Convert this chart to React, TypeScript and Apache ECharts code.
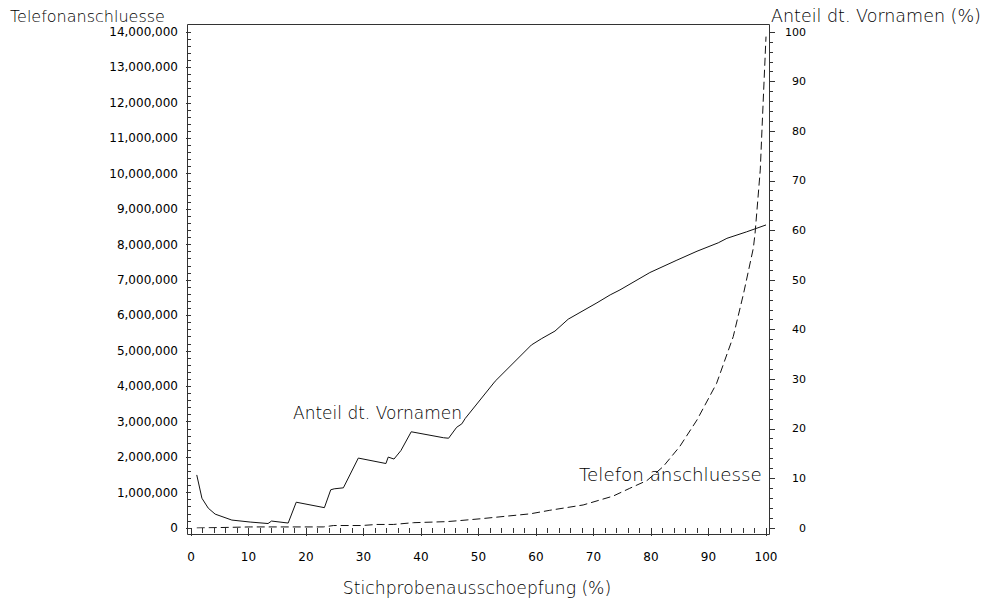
import React, { useEffect, useRef } from "react";
import * as echarts from "echarts";

// Stichprobenausschoepfung (%) vs. Anteil dt. Vornamen (%) — solid line, right axis
const anteilX = [1.0, 1.9, 3.0, 4.2, 7.1, 10.3, 13.4, 14.0, 16.9, 18.3, 23.2, 24.3, 24.9, 26.5, 29.1, 33.9, 34.3, 35.3, 36.5, 38.3, 43.9, 44.8, 46.2, 47.1, 47.7, 52.9, 59.2, 61.0, 63.3, 65.6, 70.6, 72.9, 74.6, 79.8, 84.5, 88.0, 91.7, 93.2, 96.6, 100];
const anteilY = [10.7, 6.0, 4.0, 2.8, 1.6, 1.2, 0.9, 1.4, 1.0, 5.2, 4.1, 7.7, 7.9, 8.1, 14.1, 13.0, 14.3, 13.9, 15.6, 19.4, 18.2, 18.1, 20.3, 21.0, 22.1, 29.6, 36.9, 38.2, 39.7, 42.1, 45.4, 47.0, 48.0, 51.5, 54.0, 55.8, 57.5, 58.4, 59.7, 61.1];

// Stichprobenausschoepfung (%) vs. Telefonanschluesse — dashed line, left axis
const telefonX = [1, 10.3, 23.0, 24.8, 29.7, 32.3, 35.2, 38.7, 44.5, 46.8, 50.3, 59.0, 62.4, 68.2, 73.4, 76.3, 79.3, 82.1, 85.0, 88.0, 91.4, 94.3, 96.1, 97.8, 98.1, 99.0, 99.5, 100];
const telefonY = [0, 30000, 30000, 70000, 70000, 100000, 100000, 150000, 180000, 210000, 260000, 400000, 500000, 650000, 900000, 1120000, 1340000, 1730000, 2300000, 3050000, 4080000, 5400000, 6620000, 7900000, 8320000, 10100000, 12000000, 13870000];

const xTitle = "Stichprobenausschoepfung (%)";
const leftTitle = "Telefonanschluesse";
const rightTitle = "Anteil dt. Vornamen (%)";
const anteilLabel = "Anteil dt. Vornamen";
const telefonLabel = "Telefon anschluesse";

const FONT = '"DejaVu Sans", sans-serif';

function txt(text: string, x: number, y: number, size: number, align: string) {
  return {
    type: "text",
    x,
    y,
    silent: true,
    style: {
      text,
      font: `200 ${size}px ${FONT}`,
      fill: "#000",
      textAlign: align,
      align,
      textVerticalAlign: "middle",
      verticalAlign: "middle",
    },
  };
}

export default function App() {
  const ref = useRef<HTMLDivElement>(null);
  useEffect(() => {
    document.body.style.margin = "0";
    if (!ref.current) return;
    const chart = echarts.init(ref.current, null, { renderer: "svg" });
    const anteilData = anteilX.map((x, i) => [x, anteilY[i]]);
    const telefonData = telefonX.map((x, i) => [x, telefonY[i]]);
    chart.setOption({
      animation: false,
      backgroundColor: "#fff",
      grid: { left: 191, right: 223, top: 32, bottom: 75 },
      xAxis: {
        type: "value",
        min: 0,
        max: 100,
        interval: 10,
        offset: 6,
        axisLine: { show: false },
        axisTick: { show: true, length: 8, lineStyle: { color: "#333" } },
        minorTick: { show: true, splitNumber: 5, length: 5, lineStyle: { color: "#333" } },
        splitLine: { show: false },
        axisLabel: { margin: 17, fontSize: 12, fontFamily: FONT, color: "#000" },
      },
      yAxis: [
        {
          type: "value",
          position: "left",
          min: 0,
          max: 14000000,
          interval: 1000000,
          offset: 4,
          axisLine: { show: false },
          axisTick: { show: true, length: 5, lineStyle: { color: "#333" } },
          minorTick: { show: true, splitNumber: 5, length: 3, lineStyle: { color: "#333" } },
          splitLine: { show: false },
          axisLabel: {
            margin: 9,
            fontSize: 12,
            fontFamily: FONT,
            color: "#000",
            formatter: (v: number) => v.toLocaleString("en-US"),
          },
        },
        {
          type: "value",
          position: "right",
          min: 0,
          max: 100,
          interval: 10,
          offset: 3,
          axisLine: { show: false },
          axisTick: { show: true, length: 6, lineStyle: { color: "#333" } },
          minorTick: { show: true, splitNumber: 5, length: 4, lineStyle: { color: "#333" } },
          splitLine: { show: false },
          axisLabel: { margin: 37, align: "right", fontSize: 11, fontFamily: FONT, color: "#000" },
        },
      ],
      series: [
        {
          type: "line",
          name: anteilLabel,
          yAxisIndex: 1,
          data: anteilData,
          showSymbol: false,
          lineStyle: { color: "#111", width: 1 },
        },
        {
          type: "line",
          name: leftTitle,
          yAxisIndex: 0,
          data: telefonData,
          showSymbol: false,
          lineStyle: { color: "#111", width: 1, type: [8, 4] },
        },
      ],
      graphic: [
        {
          type: "rect",
          silent: true,
          shape: { x: 187.5, y: 24.5, width: 582, height: 510 },
          style: { fill: "none", stroke: "#333", lineWidth: 1 },
        },
        txt(leftTitle, 10, 16.5, 16, "left"),
        txt(rightTitle, 771, 16, 17.5, "left"),
        txt(xTitle, 477, 588, 17.2, "center"),
        txt(anteilLabel, 293, 412.5, 17, "left"),
        txt(telefonLabel, 579, 474.5, 18.3, "left"),
      ],
    });
    return () => chart.dispose();
  }, []);
  return <div ref={ref} style={{ width: 989, height: 603 }} />;
}
